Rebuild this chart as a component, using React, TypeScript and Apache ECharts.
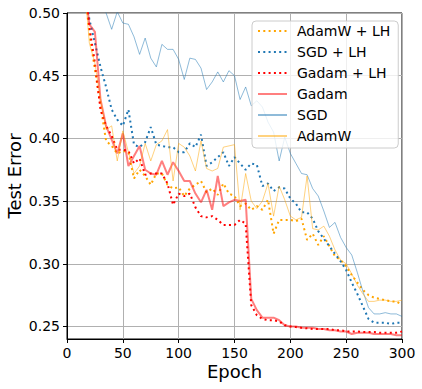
import React, { useEffect, useRef } from "react";
import * as echarts from "echarts";

const epochs = [15, 20, 25, 30, 35, 40, 45, 50, 55, 60, 65, 70, 75, 80, 85, 90, 95, 100, 105, 110, 115, 120, 125, 130, 135, 140, 145, 150, 155, 160, 165, 170, 175, 180, 185, 190, 195, 200, 205, 210, 215, 220, 225, 230, 235, 240, 245, 250, 255, 260, 265, 270, 275, 280, 285, 290, 295, 300];

const adamwLH = [0.53, 0.484, 0.455, 0.426, 0.398, 0.394, 0.388, 0.390, 0.389, 0.368, 0.375, 0.370, 0.363, 0.372, 0.372, 0.363, 0.360, 0.361, 0.354, 0.360, 0.363, 0.366, 0.357, 0.360, 0.355, 0.364, 0.356, 0.354, 0.346, 0.348, 0.343, 0.346, 0.343, 0.351, 0.324, 0.335, 0.335, 0.335, 0.334, 0.336, 0.319, 0.324, 0.315, 0.322, 0.314, 0.306, 0.303, 0.298, 0.291, 0.285, 0.279, 0.275, 0.273, 0.272, 0.271, 0.270, 0.270, 0.267];

const sgdLH = [0.53, 0.495, 0.476, 0.457, 0.441, 0.423, 0.415, 0.410, 0.423, 0.395, 0.393, 0.397, 0.409, 0.395, 0.394, 0.393, 0.393, 0.389, 0.389, 0.396, 0.393, 0.403, 0.378, 0.381, 0.385, 0.389, 0.378, 0.385, 0.380, 0.375, 0.380, 0.379, 0.362, 0.364, 0.358, 0.361, 0.360, 0.352, 0.348, 0.341, 0.341, 0.336, 0.326, 0.320, 0.314, 0.308, 0.302, 0.295, 0.285, 0.276, 0.266, 0.256, 0.253, 0.253, 0.253, 0.252, 0.253, 0.253];

const gadamLH = [0.53, 0.489, 0.460, 0.423, 0.410, 0.402, 0.391, 0.391, 0.390, 0.380, 0.384, 0.371, 0.372, 0.372, 0.372, 0.364, 0.347, 0.356, 0.354, 0.356, 0.345, 0.338, 0.337, 0.338, 0.335, 0.331, 0.331, 0.331, 0.335, 0.332, 0.267, 0.259, 0.256, 0.255, 0.255, 0.254, 0.251, 0.250, 0.2495, 0.249, 0.2485, 0.248, 0.248, 0.248, 0.248, 0.247, 0.247, 0.246, 0.246, 0.246, 0.2455, 0.2455, 0.2455, 0.245, 0.245, 0.245, 0.245, 0.246];

const gadam = [0.53, 0.491, 0.485, 0.431, 0.410, 0.399, 0.388, 0.404, 0.378, 0.386, 0.394, 0.375, 0.372, 0.371, 0.382, 0.371, 0.381, 0.374, 0.366, 0.366, 0.356, 0.349, 0.359, 0.343, 0.370, 0.346, 0.349, 0.351, 0.350, 0.351, 0.272, 0.263, 0.257, 0.257, 0.257, 0.255, 0.251, 0.250, 0.250, 0.249, 0.249, 0.249, 0.248, 0.248, 0.247, 0.247, 0.246, 0.246, 0.244, 0.245, 0.245, 0.245, 0.244, 0.244, 0.244, 0.244, 0.243, 0.243];

const sgd = [null, null, null, 0.515, 0.500, 0.487, 0.501, 0.492, 0.491, 0.481, 0.467, 0.480, 0.464, 0.457, 0.475, 0.471, 0.471, 0.463, 0.447, 0.464, 0.463, 0.456, 0.439, 0.445, 0.453, 0.445, 0.454, 0.450, 0.431, 0.441, 0.426, 0.430, 0.425, 0.413, 0.405, 0.382, 0.401, 0.388, 0.380, 0.372, 0.371, 0.360, 0.354, 0.342, 0.329, 0.333, 0.321, 0.313, 0.307, 0.293, 0.278, 0.265, 0.260, 0.260, 0.261, 0.260, 0.260, 0.258];

const adamw = [0.53, 0.476, 0.460, 0.431, 0.407, 0.410, 0.382, 0.406, 0.389, 0.372, 0.378, 0.396, 0.382, 0.395, 0.398, 0.407, 0.366, 0.396, 0.393, 0.386, 0.374, 0.398, 0.376, 0.374, 0.376, 0.393, 0.394, 0.395, 0.343, 0.372, 0.350, 0.344, 0.350, 0.364, 0.338, 0.362, 0.351, 0.338, 0.335, 0.337, 0.370, 0.328, 0.327, 0.330, 0.322, 0.311, 0.303, 0.300, 0.292, 0.283, 0.276, 0.270, 0.270, 0.271, 0.271, 0.270, 0.270, 0.271];

const xTicks = [0, 50, 100, 150, 200, 250, 300];
const yTicks = [0.25, 0.3, 0.35, 0.4, 0.45, 0.5];

const FONT = "DejaVu Sans";

function pairs(vals: (number | null)[]) {
  return epochs.map((e, i) => [e, vals[i]]);
}

export default function App() {
  const ref = useRef<HTMLDivElement>(null);
  useEffect(() => {
    if (!ref.current) return;
    const chart = echarts.init(ref.current, undefined, { renderer: "svg" });
    const dotted = [2, 3.3];
    const series: any[] = [
      { name: "AdamW + LH", data: pairs(adamwLH), lineStyle: { color: "#ffa500", width: 2, type: dotted }, itemStyle: { color: "#ffa500" } },
      { name: "SGD + LH", data: pairs(sgdLH), lineStyle: { color: "#1f77b4", width: 2, type: dotted }, itemStyle: { color: "#1f77b4" } },
      { name: "Gadam + LH", data: pairs(gadamLH), lineStyle: { color: "#ff0000", width: 2, type: dotted }, itemStyle: { color: "#ff0000" } },
      { name: "Gadam", data: pairs(gadam), lineStyle: { color: "rgba(255,0,0,0.5)", width: 2 }, itemStyle: { color: "rgba(255,0,0,0.5)" } },
      { name: "SGD", data: pairs(sgd), lineStyle: { color: "rgba(31,119,180,0.5)", width: 1 }, itemStyle: { color: "rgba(31,119,180,0.5)" } },
      { name: "AdamW", data: pairs(adamw), lineStyle: { color: "rgba(255,165,0,0.5)", width: 1 }, itemStyle: { color: "rgba(255,165,0,0.5)" } },
    ].map((s) => ({ ...s, type: "line", symbol: "none", clip: true, connectNulls: false }));

    chart.setOption({
      animation: false,
      textStyle: { fontFamily: FONT },
      grid: { left: 67, right: 20, top: 13, bottom: 50, outerBoundsMode: "none", containLabel: false, show: true, borderColor: "#000", borderWidth: 1, backgroundColor: "transparent" },
      legend: {
        left: 252,
        top: 21,
        orient: "vertical",
        itemWidth: 29,
        itemHeight: 14,
        itemGap: 7,
        padding: [3, 8, 5, 5],
        backgroundColor: "rgba(255,255,255,0.8)",
        borderColor: "#cccccc",
        borderWidth: 1,
        borderRadius: 4,
        itemStyle: { opacity: 0 },
        textStyle: { fontFamily: FONT, fontSize: 14, color: "#000", padding: [0, 0, 0, 5] },
        data: series.map((s) => s.name),
      },
      xAxis: {
        type: "value",
        min: 0,
        max: 300,
        interval: 50,
        name: "Epoch",
        nameLocation: "middle",
        nameGap: 23,
        nameMoveOverlap: false,
        nameTextStyle: { fontFamily: FONT, fontSize: 18, color: "#000" },
        axisLine: { show: true, lineStyle: { color: "#000", width: 1 } },
        axisTick: { show: true, inside: false, length: 4, lineStyle: { color: "#000" }, customValues: xTicks },
        axisLabel: { fontFamily: FONT, fontSize: 14, color: "#000", margin: 7, customValues: xTicks },
        splitLine: { show: true, lineStyle: { color: "#b0b0b0", width: 1 } },
      },
      yAxis: {
        type: "value",
        min: 0.24,
        max: 0.5,
        name: "Test Error",
        nameLocation: "middle",
        nameGap: 44,
        nameMoveOverlap: false,
        nameRotate: 90,
        nameTextStyle: { fontFamily: FONT, fontSize: 18, color: "#000" },
        axisLine: { show: true, lineStyle: { color: "#000", width: 1 } },
        axisTick: { show: true, inside: false, length: 4, lineStyle: { color: "#000" }, customValues: yTicks },
        axisLabel: { fontFamily: FONT, fontSize: 14, color: "#000", margin: 7, customValues: yTicks, formatter: (v: number) => v.toFixed(2) },
        splitLine: { show: true, lineStyle: { color: "#b0b0b0", width: 1 } },
      },
      series,
    });
    return () => chart.dispose();
  }, []);
  return <div ref={ref} style={{ width: 422, height: 389, position: "absolute", left: 0, top: 0 }} />;
}
